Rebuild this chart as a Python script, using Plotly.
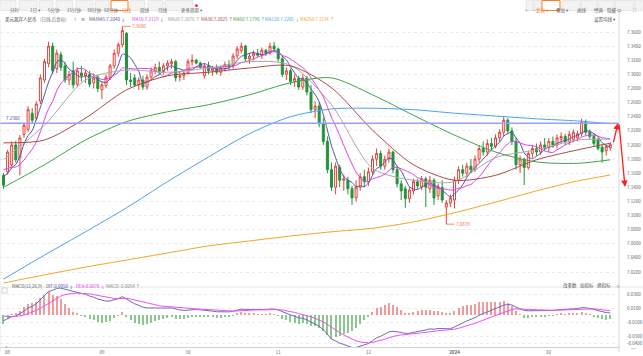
import plotly.graph_objects as go

# ---------------- data ----------------
opens = [7.157,7.162,7.172,7.200,7.182,7.215,7.222,7.245,7.238,7.262,7.292,7.315,7.340,7.308,7.328,7.312,7.292,7.305,7.286,7.302,7.298,7.300,7.288,7.296,
         7.278,7.284,7.296,7.312,7.330,7.342,7.358,7.292,7.295,7.285,7.292,7.282,7.296,7.304,7.310,7.304,7.312,7.315,7.318,7.296,7.298,
         7.302,7.318,7.320,7.316,7.298,7.312,7.305,7.308,7.303,7.308,7.314,7.312,7.326,7.334,7.340,7.322,7.326,7.330,7.327,7.334,7.330,7.340,
         7.336,7.322,7.300,7.305,7.290,7.294,7.282,7.295,7.275,7.250,7.255,7.230,7.205,7.165,7.140,7.168,7.150,7.150,7.138,7.125,7.140,7.155,
         7.148,7.162,7.180,7.188,7.170,7.180,7.190,7.165,7.145,7.138,7.124,7.135,7.148,7.140,7.152,7.138,7.150,7.128,7.140,7.112,7.118,
         7.122,7.150,7.165,7.160,7.170,7.165,7.180,7.195,7.190,7.202,7.198,7.210,7.218,7.235,7.220,7.205,7.172,7.180,7.168,7.188,7.195,7.190,7.200,
         7.196,7.205,7.200,7.208,7.212,7.205,7.208,7.210,7.216,7.232,7.218,7.212,7.208,7.197,7.192,7.196]
highs = [7.160,7.193,7.205,7.206,7.214,7.232,7.255,7.252,7.262,7.300,7.322,7.346,7.345,7.335,7.332,7.318,7.305,7.318,7.310,7.312,7.306,7.305,7.300,7.299,
         7.290,7.300,7.315,7.335,7.345,7.368,7.360,7.302,7.300,7.296,7.298,7.300,7.310,7.315,7.318,7.316,7.320,7.322,7.320,7.304,7.306,
         7.322,7.328,7.322,7.318,7.316,7.318,7.312,7.314,7.312,7.318,7.320,7.330,7.340,7.345,7.342,7.330,7.334,7.336,7.338,7.336,7.345,7.346,
         7.338,7.326,7.310,7.308,7.300,7.298,7.300,7.298,7.285,7.262,7.260,7.238,7.212,7.175,7.175,7.172,7.158,7.155,7.142,7.150,7.160,7.165,
         7.168,7.185,7.195,7.192,7.185,7.195,7.192,7.170,7.150,7.142,7.140,7.152,7.152,7.156,7.155,7.156,7.153,7.145,7.150,7.122,7.130,
         7.155,7.170,7.172,7.175,7.180,7.185,7.200,7.205,7.208,7.210,7.215,7.222,7.240,7.238,7.225,7.210,7.185,7.182,7.192,7.200,7.202,7.205,7.210,
         7.210,7.212,7.215,7.218,7.216,7.220,7.222,7.220,7.237,7.236,7.222,7.215,7.210,7.200,7.200,7.204]
lows = [7.138,7.158,7.168,7.175,7.157,7.210,7.218,7.230,7.235,7.258,7.288,7.310,7.300,7.302,7.305,7.288,7.285,7.280,7.282,7.290,7.288,7.282,7.280,7.275,
        7.265,7.280,7.292,7.308,7.325,7.338,7.285,7.282,7.282,7.278,7.278,7.278,7.292,7.300,7.300,7.300,7.305,7.308,7.290,7.290,7.292,
        7.300,7.312,7.314,7.308,7.294,7.300,7.298,7.300,7.298,7.304,7.306,7.308,7.322,7.330,7.318,7.315,7.320,7.324,7.322,7.326,7.328,7.332,
        7.318,7.296,7.292,7.285,7.282,7.278,7.278,7.270,7.245,7.238,7.225,7.200,7.160,7.135,7.130,7.140,7.135,7.130,7.115,7.120,7.135,7.140,
        7.142,7.158,7.170,7.165,7.165,7.175,7.160,7.140,7.122,7.111,7.118,7.130,7.138,7.136,7.112,7.132,7.115,7.122,7.118,7.0878,7.112,
        7.110,7.145,7.155,7.155,7.160,7.162,7.175,7.185,7.185,7.192,7.195,7.205,7.212,7.215,7.200,7.165,7.160,7.143,7.165,7.182,7.185,7.186,7.192,
        7.190,7.196,7.195,7.202,7.200,7.200,7.204,7.205,7.212,7.214,7.208,7.198,7.192,7.175,7.185,7.192]
closes = [7.143,7.190,7.200,7.179,7.210,7.228,7.250,7.235,7.258,7.295,7.318,7.340,7.305,7.330,7.310,7.292,7.300,7.285,7.305,7.298,7.302,7.286,7.295,7.280,
          7.285,7.296,7.312,7.330,7.342,7.362,7.292,7.290,7.285,7.292,7.282,7.296,7.305,7.310,7.304,7.312,7.316,7.318,7.295,7.298,7.302,
          7.318,7.320,7.316,7.310,7.312,7.305,7.308,7.303,7.310,7.314,7.312,7.326,7.336,7.340,7.322,7.326,7.330,7.327,7.334,7.330,7.340,7.336,
          7.322,7.300,7.305,7.290,7.294,7.282,7.295,7.275,7.250,7.255,7.230,7.205,7.165,7.140,7.170,7.150,7.152,7.138,7.125,7.140,7.155,7.148,
          7.162,7.180,7.188,7.170,7.180,7.190,7.165,7.145,7.135,7.124,7.136,7.148,7.142,7.152,7.140,7.150,7.125,7.140,7.122,7.118,7.125,
          7.150,7.165,7.160,7.170,7.165,7.180,7.195,7.190,7.202,7.198,7.210,7.218,7.235,7.220,7.205,7.172,7.180,7.168,7.188,7.195,7.190,7.200,7.196,
          7.205,7.200,7.210,7.212,7.205,7.215,7.218,7.216,7.232,7.218,7.212,7.202,7.195,7.190,7.198,7.201]
pre_closes = [7.175, 7.180, 7.178, 7.172, 7.168, 7.170, 7.160, 7.155, 7.150]

ma_idx = [0, 10, 20, 30, 40, 50, 60, 70, 80, 90, 100, 110, 120, 130, 140, 148]
ma20 = [7.179, 7.228, 7.292, 7.306, 7.303, 7.309, 7.318, 7.313, 7.257, 7.167, 7.150, 7.148, 7.182, 7.193, 7.207, 7.208]
ma30 = [7.203, 7.207, 7.238, 7.278, 7.298, 7.303, 7.309, 7.312, 7.281, 7.221, 7.172, 7.150, 7.157, 7.179, 7.193, 7.2025]
ma60 = [7.140, 7.172, 7.207, 7.233, 7.247, 7.257, 7.271, 7.288, 7.295, 7.271, 7.242, 7.214, 7.190, 7.176, 7.174, 7.179]
ma120 = [7.010, 7.044, 7.077, 7.111, 7.148, 7.183, 7.216, 7.240, 7.251, 7.252, 7.250, 7.245, 7.241, 7.237, 7.234, 7.230]
ma250 = [7.0045, 7.016, 7.027, 7.037, 7.047, 7.057, 7.064, 7.071, 7.077, 7.082, 7.091, 7.104, 7.119, 7.135, 7.149, 7.1574]

ema12_seed, ema26_seed, dea_seed = 7.165, 7.172, 0.0

month_pos = [1, 24, 45, 67, 89, 110, 133]
month_labels = ['08', '09', '10', '11', '12', '<b>2024</b>', '02']
price_ticks = [7.02 + 0.02 * k for k in range(18)]
macd_ticks = [0.03, 0.01, -0.01, -0.03, -0.04]
hline_value = 7.2306
high_label, low_label = '7.3680', '7.0878'
high_i, low_i = 29, 108

# ---------------- derived ----------------
n = len(closes)
idx = list(range(n))
allc = pre_closes + closes
p = len(pre_closes)
ma5 = [sum(allc[i + p - 4:i + p + 1]) / 5 for i in range(n)]
ma10 = [sum(allc[i + p - 9:i + p + 1]) / 10 for i in range(n)]
e12, e26, dea = ema12_seed, ema26_seed, dea_seed
difs, deas, hist = [], [], []
for c in closes:
    e12 += 2 / 13 * (c - e12)
    e26 += 2 / 27 * (c - e26)
    d = e12 - e26
    dea += 2 / 10 * (d - dea)
    difs.append(d); deas.append(dea); hist.append(2 * (d - dea))

# ---------------- layout helpers ----------------
W, H = 643, 356
L, R, T, B = 0, 24, 21, 9
PW, PH = W - L - R, H - T - B
def X(px): return (px - L) / PW
def Y(py): return (H - B - py) / PH

C_MA5, C_MA10, C_MA20, C_MA30 = '#5050b0', '#e040e0', '#aaaaaa', '#b04848'
C_MA60, C_MA120, C_MA250 = '#3fa34d', '#4aa3f0', '#f5a623'
FONT = 'Noto Sans CJK SC, DejaVu Sans, sans-serif'
FS = 4.5
FH = 4.5

fig = go.Figure()
fig.add_trace(go.Candlestick(x=idx, open=opens, high=highs, low=lows, close=closes,
                             increasing=dict(line=dict(color='#e8403a', width=1), fillcolor='#ffffff'),
                             decreasing=dict(line=dict(color='#22943a', width=1), fillcolor='#22943a'),
                             whiskerwidth=0, xaxis='x', yaxis='y', hoverinfo='skip'))
for vals, col, xs in [(ma5, C_MA5, idx), (ma10, C_MA10, idx), (ma20, C_MA20, ma_idx), (ma30, C_MA30, ma_idx),
                      (ma60, C_MA60, ma_idx), (ma120, C_MA120, ma_idx), (ma250, C_MA250, ma_idx)]:
    fig.add_trace(go.Scatter(x=xs, y=vals, mode='lines', line=dict(color=col, width=1, shape='spline', smoothing=0.8),
                             xaxis='x', yaxis='y', hoverinfo='skip'))

fig.add_trace(go.Bar(x=idx, y=hist, width=0.28,
                     marker=dict(color=['#f29a9a' if h >= 0 else '#8cc78c' for h in hist], line=dict(width=0)),
                     xaxis='x', yaxis='y2', hoverinfo='skip'))
fig.add_trace(go.Scatter(x=idx, y=difs, mode='lines', line=dict(color='#6a6ac0', width=1), xaxis='x', yaxis='y2', hoverinfo='skip'))
fig.add_trace(go.Scatter(x=idx, y=deas, mode='lines', line=dict(color='#f050f0', width=1), xaxis='x', yaxis='y2', hoverinfo='skip'))

x_lo, x_hi = (0 - 3.5) / 4.1, (619 - 3.5) / 4.1
fig.update_layout(
    width=W, height=H, margin=dict(l=L, r=R, t=T, b=B),
    paper_bgcolor='white', plot_bgcolor='white', showlegend=False,
    font=dict(family=FONT, size=FS, color='#555'),
    bargap=0,
    xaxis=dict(range=[x_lo, x_hi], rangeslider=dict(visible=False), tickvals=month_pos, ticktext=month_labels,
               showgrid=False, zeroline=False, showline=True, linecolor='#d0d0d0', ticks='',
               tickfont=dict(size=FS, color='#666'), anchor='y2', ticklabelstandoff=1),
    yaxis=dict(domain=[Y(285), 1], range=[7.36 - (285 - 32) / 706, 7.36 + (32 - 21) / 706], side='right',
               tickvals=price_ticks, ticktext=['%.4f' % v for v in price_ticks], tickfont=dict(size=FS, color='#666'),
               showgrid=True, gridcolor='#ececec', griddash='dot', zeroline=False, ticks='', ticklabelstandoff=7),
    yaxis2=dict(domain=[0, Y(288)], range=[-(347 - 315) / 700, (315 - 288) / 700], side='right',
                tickvals=macd_ticks, ticktext=['%.4f' % v for v in macd_ticks], tickfont=dict(size=FS, color='#666'),
                showgrid=True, gridcolor='#ececec', griddash='dot', zeroline=False, ticks='', ticklabelstandoff=7),
)

shapes = []
ann = []
shapes.append(dict(type='line', xref='paper', yref='y', x0=0, x1=1, y0=hline_value, y1=hline_value,
                   line=dict(color='#9d9dff', width=1.5)))
ann.append(dict(xref='paper', yref='y', x=X(4), y=hline_value, yshift=5, xanchor='left', text='7.2306',
                showarrow=False, font=dict(size=FS, color='#4b4bb0')))
ann.append(dict(x=high_i, y=highs[high_i], xref='x', yref='y', text=high_label, showarrow=True, arrowhead=0,
                arrowcolor='#f07030', arrowwidth=0.8, ax=8, ay=0, xanchor='left', font=dict(size=FS, color='#f07030')))
ann.append(dict(x=low_i, y=lows[low_i], xref='x', yref='y', text=low_label, showarrow=True, arrowhead=0,
                arrowcolor='#f07030', arrowwidth=0.8, ax=8, ay=0, xanchor='left', font=dict(size=FS, color='#f07030')))
ann.append(dict(xref='paper', yref='paper', x=X(618), y=Y(123), ax=-5, ay=21, text='', showarrow=True,
                arrowhead=2, arrowsize=1, arrowwidth=1.3, arrowcolor='#ff2020'))
ann.append(dict(xref='paper', yref='paper', x=X(625), y=Y(187), ax=-6, ay=-64, text='', showarrow=True,
                arrowhead=2, arrowsize=1, arrowwidth=1.3, arrowcolor='#ff2020'))

shapes.append(dict(type='line', xref='paper', yref='paper', x0=X(619), x1=X(619), y0=Y(352), y1=Y(11),
                   line=dict(color='#d8d8d8', width=1)))
shapes.append(dict(type='line', xref='paper', yref='paper', x0=0, x1=X(643), y0=Y(287), y1=Y(287),
                   line=dict(color='#e4e4e4', width=1)))
shapes.append(dict(type='line', xref='paper', yref='paper', x0=0, x1=0, y0=Y(352), y1=Y(20),
                   line=dict(color='#e4e4e4', width=1)))

tabs_left = [('分时', 0, 16, False), ('1日 ▾', 19, 37, False), ('5分钟', 39, 53, False), ('15分钟', 56, 73, False),
             ('30分钟', 76, 93, False), ('60分钟', 95, 109, False), ('日线', 111, 128, True), ('周线', 130, 145, False),
             ('月线', 148, 163, False), ('更多周期 ▾', 165, 193, False)]
tabs_right = [('+', 526, 533, False), ('−', 534, 541, False), ('复权 ▾', 542, 560, True), ('叠加 ▾', 562, 580, False),
              ('画线', 581, 597, False), ('经典', 598, 614, False), ('隐藏 ⇔', 615, 634, False), ('⛶', 635, 642, False)]
for lab, a, b, sel in tabs_left + tabs_right:
    shapes.append(dict(type='rect', xref='paper', yref='paper', x0=X(a), x1=X(b), y0=Y(10.5), y1=Y(0.5),
                       fillcolor='#f3f3f3' if not sel else '#ffffff',
                       line=dict(color='#f5822a' if sel else '#dadada', width=1 if sel else 0.6), layer='below'))
    ann.append(dict(xref='paper', yref='paper', x=X((a + b) / 2), y=Y(5.5), text=lab, showarrow=False,
                    font=dict(size=FS, color='#f5822a' if sel else '#666')))
ann.append(dict(xref='paper', yref='paper', x=X(193), y=Y(2), text='●', showarrow=False, font=dict(size=3, color='#ff2020')))

row_y = Y(14)
hdr = [('美元离岸人民币', 3, '#333'), ('(日线,后复权)', 38, '#777'), ('?', 72, '#777'), ('⚙', 79, '#777'), ('MA', 87, '#555'),
       ('MA5:7.2040 ↓', 94, C_MA5), ('MA10:7.2119 ↓', 130, C_MA10), ('MA20:7.2076 ↑', 166, '#999'),
       ('MA30:7.2025 ↑', 199, C_MA30), ('MA60:7.1790 ↑', 231, C_MA60), ('MA120:7.2205 ↓', 263, C_MA120),
       ('MA250:7.1574 ↑', 298, C_MA250), ('设置均线 ▾', 592, '#555')]
for t, x0, col in hdr:
    ann.append(dict(xref='paper', yref='paper', x=X(x0), y=row_y, xanchor='left', text=t, showarrow=False,
                    font=dict(size=FH, color=col)))

m_y = Y(290.5)
mh = [('MACD(12,26,9)', 10, '#555'), ('DIF:0.0050 ↓', 44, '#5050b0'), ('DEA:0.0070 ↓', 74, '#e040e0'),
      ('MACD:-0.0054 ↑', 104, '#888'), ('改参数', 561, '#555'), ('加指标', 578, '#555'), ('换指标', 595, '#555'),
      ('×', 614, '#888')]
for t, x0, col in mh:
    ann.append(dict(xref='paper', yref='paper', x=X(x0), y=m_y, xanchor='left', text=t, showarrow=False,
                    font=dict(size=FH, color=col)))
shapes.append(dict(type='rect', xref='paper', yref='paper', x0=X(2), x1=X(7), y0=Y(293), y1=Y(288),
                   line=dict(color='#bbb', width=0.6)))
ann.append(dict(xref='paper', yref='paper', x=X(3), y=Y(351.5), text='<', showarrow=False, font=dict(size=FS, color='#888')))
ann.append(dict(xref='paper', yref='paper', x=X(638), y=Y(352.5), text='>>', showarrow=False, font=dict(size=4, color='#888')))

fig.update_layout(shapes=shapes, annotations=ann)
fig.write_html('out.html', config={'displayModeBar': False}, post_script="document.body.style.margin='0px';")
